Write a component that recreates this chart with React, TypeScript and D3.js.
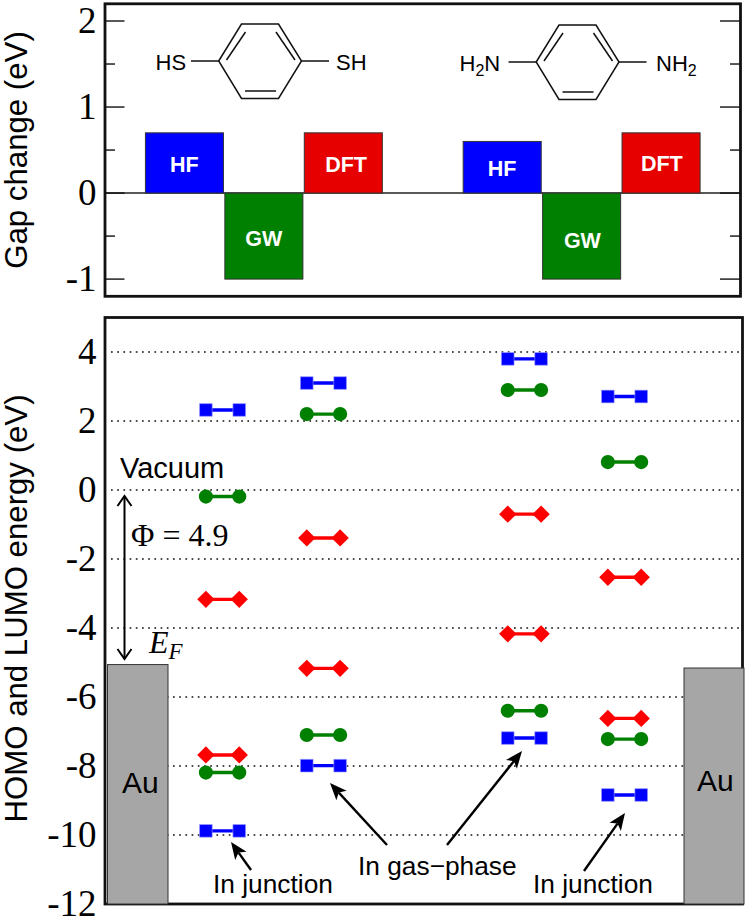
import React from "react";
import * as d3 from "d3";

// ---------- data ----------
const barCategories = ["HF", "GW", "DFT", "HF", "GW", "DFT"];
const barPositions = [1, 2, 3, 5, 6, 7];
const barValues = [0.7, -1.0, 0.7, 0.6, -1.0, 0.7];
const barColors = ["#0000ff", "#008000", "#e60000", "#0000ff", "#008000", "#e60000"];
const barLabelValues = [0.327, -0.53, 0.33, 0.284, -0.557, 0.342];
const barLabelShift = [0, 0, 0.035, 0, 0.01, 0.01];

const topMajorTicks = [2, 1, 0, -1];
const topMinorTicks = [1.5, 0.5, -0.5];
const bottomTicks = [4, 2, 0, -2, -4, -6, -8, -10, -12];

const columnCenters = [1.48, 2.75, 5.28, 6.54];
const pairHalfWidth = 0.21;
const hfLevels = [
  [2.32, -9.88],
  [3.1, -7.99],
  [3.8, -7.19],
  [2.71, -8.84],
];
const gwLevels = [
  [-0.19, -8.19],
  [2.2, -7.1],
  [2.9, -6.4],
  [0.81, -7.22],
];
const dftLevels = [
  [-3.17, -7.68],
  [-1.39, -5.17],
  [-0.7, -4.17],
  [-2.53, -6.62],
];
const auTops = [-5.06, -5.16];

// ---------- layout ----------
const W = 747;
const H = 918;
const L = 105;
const R = 740.5;
const R2 = 742.5;
const serif = "'Liberation Serif', serif";
const sans = "'Liberation Sans', sans-serif";

const xScale = d3.scaleLinear().domain([0, 8]).range([L, R]);
const yTop = d3.scaleLinear().domain([2.2, -1.2]).range([3.8, 296.3]);
const yBot = d3.scaleLinear().domain([5, -12]).range([317.5, 904]);

const ringLine = d3.line().curve(d3.curveLinearClosed);

function Molecule({ dx, dy }: { dx: number; dy: number }) {
  const ring: [number, number][] = [
    [218.7, 61],
    [241.5, 24],
    [278.5, 24],
    [301.5, 61],
    [278.5, 98.5],
    [241.5, 98.5],
  ];
  const segs = [
    [191, 61, 218.7, 61],
    [301.5, 61, 329, 61],
    [226.5, 60, 245.5, 32],
    [276, 32, 295, 60],
    [245, 91, 276, 91],
  ];
  return (
    <g transform={`translate(${dx},${dy})`} stroke="#111" strokeWidth={1.5} fill="none">
      <path d={ringLine(ring) as string} />
      {segs.map((s, i) => (
        <line key={i} x1={s[0]} y1={s[1]} x2={s[2]} y2={s[3]} />
      ))}
    </g>
  );
}

function FilledArrow({ x1, y1, x2, y2 }: { x1: number; y1: number; x2: number; y2: number }) {
  const a = Math.atan2(y2 - y1, x2 - x1);
  const len = 17;
  const half = 7;
  const notch = 13;
  const p = (d: number, o: number) => [
    x2 - d * Math.cos(a) - o * Math.sin(a),
    y2 - d * Math.sin(a) + o * Math.cos(a),
  ];
  const pts = [[x2, y2], p(len, half), p(notch, 0), p(len, -half)];
  const end = p(notch, 0);
  return (
    <g>
      <line x1={x1} y1={y1} x2={end[0]} y2={end[1]} stroke="#000" strokeWidth={2.4} />
      <polygon points={pts.map((q) => q.join(",")).join(" ")} fill="#000" />
    </g>
  );
}

function LevelPairs({ levels, kind, color, edge }: { levels: number[][]; kind: string; color: string; edge?: string }) {
  const sym =
    kind === "circle"
      ? d3.symbol().type(d3.symbolCircle).size(Math.PI * 50)
      : kind === "diamond"
      ? d3.symbol().type(d3.symbolSquare).size(150)
      : d3.symbol().type(d3.symbolSquare).size(160);
  const rot = kind === "diamond" ? " rotate(45)" : "";
  return (
    <g>
      {levels.map((vals, c) =>
        vals.map((v, j) => {
          const xa = xScale(columnCenters[c] - pairHalfWidth);
          const xb = xScale(columnCenters[c] + pairHalfWidth);
          const y = yBot(v);
          return (
            <g key={`${c}-${j}`}>
              <line x1={xa} x2={xb} y1={y} y2={y} stroke={color} strokeWidth={3.4} />
              <path d={sym() as string} transform={`translate(${xa},${y})${rot}`} fill={color} stroke={edge ?? "none"} strokeWidth={0.6} />
              <path d={sym() as string} transform={`translate(${xb},${y})${rot}`} fill={color} stroke={edge ?? "none"} strokeWidth={0.6} />
            </g>
          );
        })
      )}
    </g>
  );
}

export default function App() {
  const barW = xScale(1) - xScale(0);
  return (
    <svg
      width={W}
      height={H}
      viewBox={`0 0 ${W} ${H}`}
      style={{ position: "absolute", left: 0, top: 0, display: "block", background: "#fff" }}
    >
      {/* top panel */}
      <line x1={L} x2={R} y1={yTop(0)} y2={yTop(0)} stroke="#222" strokeWidth={1.4} />
      {barValues.map((v, i) => {
        const x0 = xScale(barPositions[i]) - barW / 2 + 0.7;
        const y0 = v > 0 ? yTop(v) : yTop(0);
        return (
          <g key={i}>
            <rect
              x={x0}
              y={y0}
              width={barW - 1.4}
              height={Math.abs(yTop(v) - yTop(0))}
              fill={barColors[i]}
              stroke="#333"
              strokeWidth={1}
            />
            <text
              x={xScale(barPositions[i] + barLabelShift[i])}
              y={yTop(barLabelValues[i]) + 7}
              textAnchor="middle"
              fontFamily={sans}
              fontWeight="bold"
              fontSize={21.5}
              fill="#fff"
            >
              {barCategories[i]}
            </text>
          </g>
        );
      })}
      {topMajorTicks.map((t) => (
        <g key={t}>
          <line x1={L} x2={124.5} y1={yTop(t)} y2={yTop(t)} stroke="#111" strokeWidth={1.4} />
          <line x1={720} x2={R} y1={yTop(t)} y2={yTop(t)} stroke="#111" strokeWidth={1.4} />
          <text x={96.5} y={yTop(t) + 12} textAnchor="end" fontFamily={serif} fontSize={37} fill="#000">
            {t}
          </text>
        </g>
      ))}
      {topMinorTicks.map((t) => (
        <g key={t}>
          <line x1={L} x2={115} y1={yTop(t)} y2={yTop(t)} stroke="#111" strokeWidth={1.4} />
          <line x1={730} x2={R} y1={yTop(t)} y2={yTop(t)} stroke="#111" strokeWidth={1.4} />
        </g>
      ))}
      <rect x={L} y={yTop(2.2)} width={R - L} height={yTop(-1.2) - yTop(2.2)} fill="none" stroke="#111" strokeWidth={2.8} />

      <Molecule dx={0} dy={0} />
      <Molecule dx={317.5} dy={1} />
      <g fontFamily={sans} fontSize={22} fill="#000">
        <text x={155.5} y={70}>HS</text>
        <text x={336} y={70}>SH</text>
        <text x={459.5} y={71}>H<tspan fontSize={16} dy={5}>2</tspan><tspan dy={-5}>N</tspan></text>
        <text x={656} y={71}>NH<tspan fontSize={16} dy={5}>2</tspan></text>
      </g>

      {/* bottom panel */}
      {bottomTicks.map((t) => (
        <g key={t}>
          {t > -12 && (
            <line
              x1={111}
              x2={R2}
              y1={yBot(t)}
              y2={yBot(t)}
              stroke="#111"
              strokeWidth={1.7}
              strokeDasharray="1.7 4.5"
            />
          )}
          <text x={96.5} y={yBot(t) + 12} textAnchor="end" fontFamily={serif} fontSize={37} fill="#000">
            {t}
          </text>
        </g>
      ))}
      <rect x={L} y={yBot(5)} width={R2 - L} height={yBot(-12) - yBot(5)} fill="none" stroke="#111" strokeWidth={2.8} />
      <rect x={107.5} y={yBot(auTops[0])} width={60.5} height={yBot(-12) - yBot(auTops[0])} fill="#a6a6a6" stroke="#333" strokeWidth={1} />
      <rect x={684} y={yBot(auTops[1])} width={60} height={yBot(-12) - yBot(auTops[1])} fill="#a6a6a6" stroke="#333" strokeWidth={1} />

      <LevelPairs levels={dftLevels} kind="diamond" color="#ff0000" />
      <LevelPairs levels={gwLevels} kind="circle" color="#008000" />
      <LevelPairs levels={hfLevels} kind="square" color="#0000ff" edge="#9a9aff" />

      {/* annotations */}
      <g stroke="#000" strokeWidth={2} fill="none">
        <line x1={124.5} x2={124.5} y1={497} y2={658} />
        <polyline points="117.5,506 124.5,496 131.5,506" />
        <polyline points="117.5,649 124.5,659 131.5,649" />
      </g>
      <FilledArrow x1={251} y1={870} x2={231} y2={842} />
      <FilledArrow x1={387} y1={845} x2={330} y2={783} />
      <FilledArrow x1={447} y1={845} x2={522} y2={751} />
      <FilledArrow x1={584} y1={871} x2={625} y2={813} />

      <g fontFamily={sans} fill="#000">
        <text x={120} y={478} fontSize={29}>Vacuum</text>
        <text x={122} y={793} fontSize={30}>Au</text>
        <text x={697} y={791} fontSize={30}>Au</text>
        <text x={213} y={893} fontSize={26.3}>In junction</text>
        <text x={358} y={875} fontSize={26.3}>In gas−phase</text>
        <text x={533} y={893} fontSize={26.3}>In junction</text>
      </g>
      <text x={131} y={546} fontFamily={serif} fontSize={32} fill="#000">Φ = 4.9</text>
      <text x={149} y={653} fontFamily={serif} fontStyle="italic" fontSize={32} fill="#000">
        E<tspan fontSize={23} dy={6}>F</tspan>
      </text>

      {/* axis titles */}
      <text
        transform="translate(26.5,150) rotate(-90)"
        textAnchor="middle"
        fontFamily={sans}
        fontSize={31.2}
        fill="#000"
      >
        Gap change (eV)
      </text>
      <text
        transform="translate(26.5,608.5) rotate(-90)"
        textAnchor="middle"
        fontFamily={sans}
        fontSize={31.2}
        fill="#000"
      >
        HOMO and LUMO energy (eV)
      </text>
    </svg>
  );
}
